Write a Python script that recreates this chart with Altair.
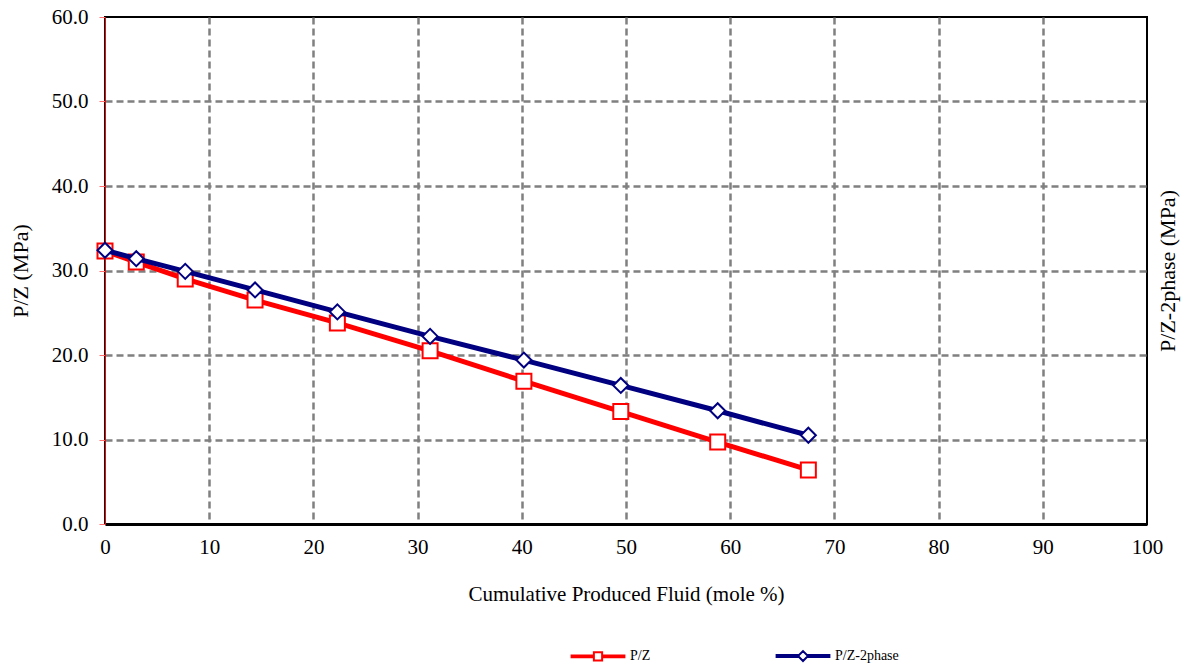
import altair as alt
import pandas as pd

# ---- data ----
x_vals = [0, 3.0, 7.7, 14.4, 22.3, 31.2, 40.2, 49.5, 58.8, 67.5]
pz_vals = [32.3, 31.0, 29.0, 26.5, 23.8, 20.5, 16.9, 13.3, 9.7, 6.4]
pz2_vals = [32.4, 31.4, 29.9, 27.7, 25.1, 22.2, 19.4, 16.4, 13.4, 10.5]
series_names = ["P/Z", "P/Z-2phase"]
series_colors = ["#ff0000", "#000080"]
x_ticks = list(range(0, 101, 10))
y_ticks = list(range(0, 61, 10))

rows = []
for name, vals in zip(series_names, [pz_vals, pz2_vals]):
    for xv, yv in zip(x_vals, vals):
        rows.append({"x": xv, "y": yv, "series": name})
df = pd.DataFrame(rows)

FONT = "Liberation Serif"
LBL = 21
TTL = 22

def grid_props(lo, hi):
    return dict(grid=True, gridColor="#808080", gridDash=[7, 4], gridWidth=2.5,
                gridOpacity=alt.condition(f"datum.value <= {lo} || datum.value >= {hi}",
                                          alt.value(0), alt.value(1)))

xscale = alt.Scale(domain=[0, 100], nice=False, zero=False)
yscale = alt.Scale(domain=[0, 60], nice=False)

xenc = alt.X("x:Q", scale=xscale, axis=alt.Axis(
    values=x_ticks, title="Cumulative Produced Fluid (mole %)", ticks=False,
    labelPadding=12, titlePadding=26, domainColor="black", domainWidth=3,
    labelFontSize=LBL, titleFontSize=21, labelFont=FONT, titleFont=FONT,
    labelColor="black", titleColor="black", titleFontWeight="normal",
    labelFlush=False, **grid_props(0, 100)))
yenc = alt.Y("y:Q", scale=yscale, axis=alt.Axis(
    values=y_ticks, format=".1f", title="P/Z (MPa)", tickSize=6,
    tickColor="#ff7070", tickWidth=1, labelPadding=11, titlePadding=19,
    domainColor="#ff0000", domainWidth=1,
    labelFontSize=LBL, titleFontSize=TTL, labelFont=FONT, titleFont=FONT,
    labelColor="black", titleColor="black", titleFontWeight="normal",
    labelFlush=False, **grid_props(0, 60)))

base = alt.Chart(df)

def series_layers(name, color, shape):
    sub = base.transform_filter(alt.datum.series == name)
    line = sub.mark_line(color=color, strokeWidth=5).encode(x=xenc, y=yenc)
    pts = sub.mark_point(shape=shape, size=225, filled=True, fill="white",
                         stroke=color, strokeWidth=2, opacity=1).encode(x=xenc, y=yenc)
    return [line, pts]

left = alt.layer(*series_layers("P/Z", "#ff0000", "square"),
                 *series_layers("P/Z-2phase", "#000080", "diamond"))

sq_path = ("M-4.8,-0.17H-0.75V0.17H-4.8Z M0.75,-0.17H4.8V0.17H0.75Z "
           "M-0.75,-0.75H0.75V0.75H-0.75Z")
dm_path = ("M-4.8,-0.17H-0.9V0.17H-4.8Z M0.9,-0.17H4.8V0.17H0.9Z "
           "M-0.9,0L0,-0.9L0.9,0L0,0.9Z")

legend = alt.Legend(title=None, orient="none", legendX=486, legendY=632,
                    direction="horizontal", symbolSize=121, symbolStrokeWidth=2,
                    symbolOpacity=1, labelFontSize=14, labelFont=FONT,
                    labelColor="black", labelOffset=25, columnPadding=121,
                    padding=0)

right = base.mark_point(opacity=0, size=121, strokeWidth=2).encode(
    x=alt.X("x:Q", scale=xscale),
    y=alt.Y("y:Q", scale=yscale, axis=alt.Axis(
        orient="right", title="P/Z-2phase (MPa)", labels=False, ticks=False,
        domain=False, grid=False, titleAngle=270, titlePadding=32,
        titleFontSize=TTL, titleFont=FONT, titleColor="black",
        titleFontWeight="normal")),
    color=alt.Color("series:N", scale=alt.Scale(domain=series_names, range=series_colors),
                    legend=legend),
    shape=alt.Shape("series:N", scale=alt.Scale(domain=series_names, range=[sq_path, dm_path]),
                    legend=legend),
)

chart = alt.layer(left, right).resolve_scale(y="independent").properties(
    width=1042, height=507,
    autosize=alt.AutoSizeParams(type="none"),
    padding={"left": 105, "top": 17, "right": 42, "bottom": 143},
).configure(background="white", font=FONT).configure_view(
    stroke="black", strokeWidth=2
).configure_axis(labelFont=FONT, titleFont=FONT)

chart.save("out.html", embed_options={"renderer": "svg", "actions": False})
